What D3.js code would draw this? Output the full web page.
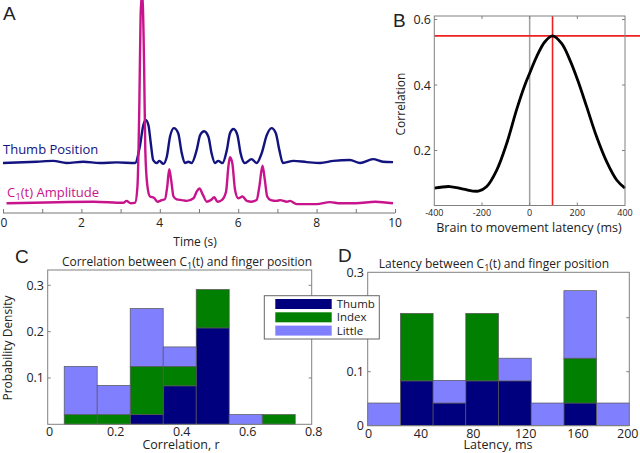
<!DOCTYPE html>
<html><head><meta charset="utf-8">
<script src="https://cdn.jsdelivr.net/npm/d3@7"></script>
<style>body{margin:0;background:#fff} svg{display:block;font-family:"Open Sans",Lato,sans-serif}</style>
</head><body><svg id="c" width="640" height="453"></svg>
<script>
// ---------- Panel A data ----------
const timeThumb = [0,0.86,1.28,1.62,2.05,2.47,2.9,3.37,3.49,3.58,3.64,3.71,3.77,3.83,3.92,3.99,4.09,4.18,4.26,4.36,4.47,4.56,4.64,4.73,4.81,4.94,5.03,5.13,5.24,5.32,5.41,5.49,5.6,5.71,5.79,5.88,5.98,6.06,6.17,6.34,6.47,6.6,6.73,6.85,6.96,7.05,7.14,7.41,7.75,8.09,8.43,8.85,9.11,9.44,9.69,9.95];
const thumbPos = [0,0.03,0.05,0,0.03,0,0.015,0,0.38,0.88,1.0,0.88,0.46,0.07,0,0.05,-0.02,0.15,0.61,0.81,0.69,0.23,0,0.03,0,0.30,0.65,0.74,0.61,0.23,0,0.05,0,0.30,0.69,0.79,0.65,0.23,0,0.09,0,0.23,0.65,0.81,0.69,0.30,0,0.05,0.02,0,0.05,0.07,0,0.09,0.03,0.02];
const timeAmp = [0.09,2.31,3.07,3.15,3.26,3.37,3.43,3.48,3.51,3.55,3.6,3.63,3.68,3.75,3.85,3.94,4.05,4.13,4.19,4.24,4.29,4.35,4.43,4.56,4.69,4.86,4.94,5.01,5.1,5.2,5.3,5.39,5.47,5.58,5.69,5.75,5.79,5.85,5.92,6.0,6.11,6.22,6.34,6.47,6.54,6.62,6.68,6.74,6.83,6.98,7.07,7.24,7.32,7.49,8.0,8.34,8.6,9.0,9.5,9.95];
const ampC1 = [0,0.04,0.015,0.06,0,0.015,0.42,2.58,4.67,5.3,3.42,1.33,0.46,0.17,0.14,0.04,0.08,0.10,0.42,0.85,0.58,0.17,0.10,0.08,0.06,0.125,0.29,0.37,0.21,0.04,0.08,0.15,0.04,0.08,0.29,0.92,1.15,1.0,0.33,0.125,0.17,0.06,0.04,0.08,0.42,0.94,0.58,0.17,0.08,0.06,0.08,0.04,0.06,-0.02,-0.02,0.03,0,0,0.04,0];
const timeTicksA = [0,1,2,3,4,5,6,7,8,9,10];
const timeLabelsA = [0,2,4,6,8,10];

// ---------- Panel B data ----------
const latencyB = [-400,-335,-278,-215,-180,-138,-96,-55,-20,0,29,64,96,134,169,204,239,281,323,365,400];
const corrB = [0.085,0.09,0.082,0.076,0.09,0.14,0.222,0.324,0.40,0.436,0.486,0.532,0.55,0.527,0.476,0.41,0.334,0.242,0.166,0.11,0.085];
const peakLatency = 96, peakCorr = 0.55;
const latTicksB = [-400,-200,0,200,400];
const corrTicksB = [0.2,0.4,0.6];

// ---------- Panel C data ----------
const fingers = ["Thumb","Index","Little"];
const fingerColors = ["#00007f","#007f00","#8080ff"];
const corrBins = [0.1,0.2,0.3,0.4,0.5,0.6,0.7];
const corrThumb  = [0,0,0.021,0.083,0.208,0,0];
const corrIndex  = [0.021,0.021,0.104,0.042,0.083,0,0.021];
const corrLittle = [0.104,0.063,0.125,0.042,0,0.021,0];
const corrTicksX = [0,0.2,0.4,0.6,0.8];
const densTicksC = [0.1,0.2,0.3];

// ---------- Panel D data ----------
const latBins = [12.5,37.5,62.5,87.5,112.5,137.5,162.5,187.5];
const latThumb  = [0,0.083,0.042,0.083,0.083,0,0.042,0];
const latIndex  = [0,0.125,0,0.125,0,0,0.083,0];
const latLittle = [0.042,0,0.042,0,0.042,0.042,0.125,0.042];
const latTicksD = [0,40,80,120,160,200];
const densTicksD = [0,0.1,0.2,0.284];
const densLabelsD = ["0","0.1","","0.3"];

const svg = d3.select("#c");
const txt = "#222", frameCol = "#808080";

function label(x,y,s,size,opts={}){
  const t = svg.append("text").attr("x",x).attr("y",y).attr("font-size",size)
    .attr("fill",opts.fill||txt).attr("text-anchor",opts.anchor||"middle");
  if(opts.font) t.attr("font-family",opts.font);
  if(opts.rot) t.attr("transform",`rotate(-90,${x},${y})`);
  t.text(s); return t;
}
function subLabel(x,y,pre,sub,post,size,opts={}){
  const t = svg.append("text").attr("x",x).attr("y",y).attr("font-size",size)
    .attr("fill",opts.fill||txt).attr("text-anchor",opts.anchor||"middle");
  t.append("tspan").text(pre);
  t.append("tspan").attr("font-size",size*0.75).attr("dy",size*0.25).text(sub);
  t.append("tspan").attr("dy",-size*0.25).text(post);
  return t;
}

// ================= Panel A =================
const xA = d3.scaleLinear().domain([0,10]).range([3,395]);
const yThumb = d3.scaleLinear().domain([0,1]).range([163,120]);
const yAmp = d3.scaleLinear().domain([0,1]).range([203.3,163.3]);
const lineT = d3.line().x((d,i)=>xA(timeThumb[i])).y(d=>yThumb(d)).curve(d3.curveMonotoneX);
const lineC = d3.line().x((d,i)=>xA(timeAmp[i])).y(d=>yAmp(d)).curve(d3.curveMonotoneX);
svg.append("path").attr("d",lineT(thumbPos)).attr("fill","none").attr("stroke","#13137f").attr("stroke-width",2.4);
svg.append("path").attr("d",lineC(ampC1)).attr("fill","none").attr("stroke","#c8148c").attr("stroke-width",2.4);
const axA = svg.append("g").attr("transform","translate(0,213)")
  .call(d3.axisBottom(xA).tickValues(timeTicksA).tickSize(-4).tickSizeOuter(0).tickFormat(""));
axA.selectAll("path,line").attr("stroke","#777");
axA.select(".domain").attr("d","M3,0H395");
timeLabelsA.forEach(v=>label(xA(v)+(v===0?1:0),227,v,12));
label(195,246,"Time (s)",12);
label(3,154,"Thumb Position",13,{anchor:"start",fill:"#13137f"});
subLabel(7,197,"C","1","(t) Amplitude",13,{anchor:"start",fill:"#c8148c"});
label(3,20,"A",19,{anchor:"start",font:"Liberation Sans"});

// ================= Panel B =================
const xB = d3.scaleLinear().domain([-400,400]).range([434.3,625]);
const yB = d3.scaleLinear().domain([0.2,0.6]).range([150.5,19.5]);
const topB = 16, botB = 205.5;
svg.append("line").attr("x1",xB(0)).attr("x2",xB(0)).attr("y1",topB).attr("y2",botB).attr("stroke","#a0a0a0").attr("stroke-width",1.5);
svg.append("line").attr("x1",xB(peakLatency)).attr("x2",xB(peakLatency)).attr("y1",topB).attr("y2",botB).attr("stroke","#ee2020").attr("stroke-width",1.6);
svg.append("line").attr("x1",434.3).attr("x2",640).attr("y1",yB(peakCorr)).attr("y2",yB(peakCorr)).attr("stroke","#ee2020").attr("stroke-width",1.6);
const lineB = d3.line().x((d,i)=>xB(latencyB[i])).y(d=>yB(d)).curve(d3.curveCatmullRom);
svg.append("path").attr("d",lineB(corrB)).attr("fill","none").attr("stroke","#000").attr("stroke-width",2.8);
svg.append("rect").attr("x",434.3).attr("y",topB).attr("width",625-434.3).attr("height",botB-topB).attr("fill","none").attr("stroke",frameCol);
[-200,0,200].forEach(v=>{
  svg.append("line").attr("x1",xB(v)).attr("x2",xB(v)).attr("y1",topB).attr("y2",topB+3).attr("stroke",frameCol);
  svg.append("line").attr("x1",xB(v)).attr("x2",xB(v)).attr("y1",botB).attr("y2",botB-3).attr("stroke",frameCol);
});
corrTicksB.forEach(v=>{
  label(431,yB(v)+4.5,v.toFixed(1),12.5,{anchor:"end"});
  svg.append("line").attr("x1",434.3).attr("x2",437.3).attr("y1",yB(v)).attr("y2",yB(v)).attr("stroke",frameCol);
  svg.append("line").attr("x1",625).attr("x2",622).attr("y1",yB(v)).attr("y2",yB(v)).attr("stroke",frameCol);
});
latTicksB.forEach(v=>label(xB(v),215.5,v,9));
label(529,232,"Brain to movement latency (ms)",12.5);
label(405,104,"Correlation",12,{rot:true});
label(393,27,"B",19,{anchor:"start",font:"Liberation Sans"});

// ================= Stacked histogram helper =================
function histo(bins,series,x,y,binW,x0,x1,y0,y1){
  let cum = bins.map(()=>0);
  const g = svg.append("g");
  series.forEach((vals,si)=>{
    bins.forEach((b,i)=>{
      const lo = cum[i], hi = cum[i]+vals[i];
      if(vals[i]>0){
        g.append("rect").attr("x",x(b-binW/2)).attr("width",x(b+binW/2)-x(b-binW/2))
          .attr("y",y(hi)).attr("height",y(lo)-y(hi))
          .attr("fill",fingerColors[si]).attr("stroke","#555").attr("stroke-width",0.7);
      }
      cum[i]=hi;
    });
  });
  svg.append("rect").attr("x",x0).attr("y",y1).attr("width",x1-x0).attr("height",y0-y1).attr("fill","none").attr("stroke",frameCol);
}

// ================= Panel C =================
const xC = d3.scaleLinear().domain([0,0.8]).range([47.7,311.7]);
const yC = d3.scaleLinear().domain([0,0.333]).range([424.3,270]);
histo(corrBins,[corrThumb,corrIndex,corrLittle],xC,yC,0.1,47.7,311.7,424.3,270);
densTicksC.forEach(v=>{
  label(44,yC(v)+4.5,v.toFixed(1),12.5,{anchor:"end"});
  svg.append("line").attr("x1",47.7).attr("x2",50.7).attr("y1",yC(v)).attr("y2",yC(v)).attr("stroke",frameCol);
  svg.append("line").attr("x1",311.7).attr("x2",308.7).attr("y1",yC(v)).attr("y2",yC(v)).attr("stroke",frameCol);
});
corrTicksX.forEach(v=>label(xC(v)+2,436,v===0?"0":v.toFixed(1),12.5));
label(181,449,"Correlation, r",12.5);
label(12,348,"Probability Density",12,{rot:true});
subLabel(187,266,"Correlation between C","1","(t) and finger position",12);
label(15,263,"C",19,{anchor:"start",font:"Liberation Sans"});

// ================= Panel D =================
const xD = d3.scaleLinear().domain([0,200]).range([367.7,629.3]);
const yD = d3.scaleLinear().domain([0,0.1]).range([425.7,371.7]);
histo(latBins,[latThumb,latIndex,latLittle],xD,yD,25,367.7,629.3,425.7,272.3);
densTicksD.forEach((v,i)=>{
  if(densLabelsD[i]) label(364,yD(v)+4.5,densLabelsD[i],12.5,{anchor:"end"});
  if(v>0 && v<0.28){
    svg.append("line").attr("x1",367.7).attr("x2",370.7).attr("y1",yD(v)).attr("y2",yD(v)).attr("stroke",frameCol);
    svg.append("line").attr("x1",629.3).attr("x2",626.3).attr("y1",yD(v)).attr("y2",yD(v)).attr("stroke",frameCol);
  }
});
latTicksD.forEach(v=>label(v===200?xD(v)-1.5:xD(v)+1,437.5,v,12.5));
label(498,449,"Latency, ms",12.5);
subLabel(494,267.5,"Latency between C","1","(t) and finger position",12);
label(338,262,"D",19,{anchor:"start",font:"Liberation Sans"});

// ================= Legend =================
const lg = svg.append("g");
lg.append("rect").attr("x",264.3).attr("y",295.7).attr("width",115).attr("height",43.3).attr("fill","#fff").attr("stroke","#666");
fingers.forEach((f,i)=>{
  const yy = 299 + i*13.3;
  lg.append("rect").attr("x",275.3).attr("y",yy).attr("width",56.4).attr("height",10).attr("fill",fingerColors[i]);
  lg.append("text").attr("x",336.7).attr("y",yy+9).attr("font-size",11.5).attr("fill",txt).text(f);
});
</script></body></html>
